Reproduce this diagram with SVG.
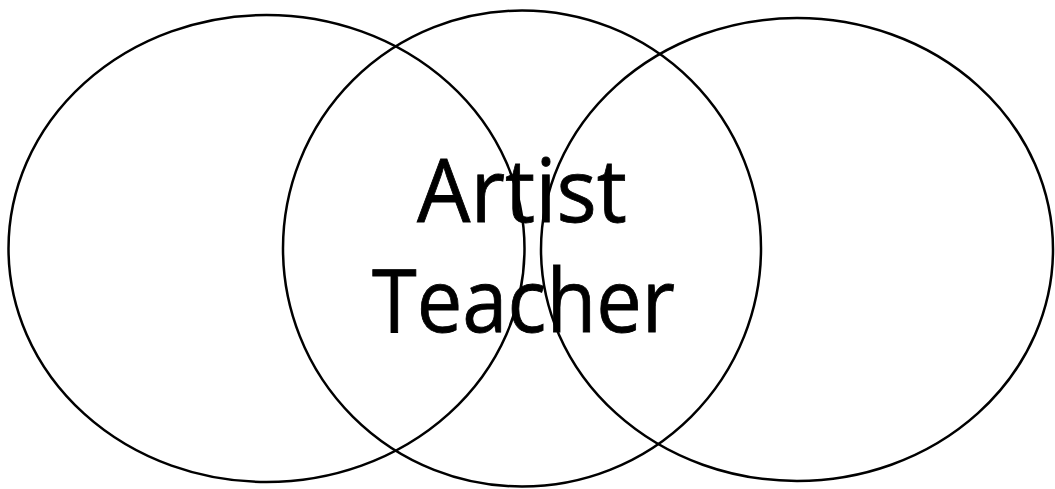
<svg xmlns="http://www.w3.org/2000/svg" width="1055" height="489" viewBox="0 0 1055 489">
<style>
.c{fill:none;stroke:#000;stroke-width:2.5}
.t{font-family:"Open Sans","Liberation Sans",sans-serif;font-size:87px;fill:#000;stroke:#000;stroke-width:0.8;text-anchor:middle}
</style>
<rect width="1055" height="489" fill="#fff"/>
<g id="circle-left"><ellipse class="c" cx="266.5" cy="248.5" rx="258" ry="233.5"/></g>
<g id="circle-middle"><ellipse class="c" cx="522" cy="248.5" rx="239" ry="238"/></g>
<g id="circle-right"><ellipse class="c" cx="797" cy="249.5" rx="256" ry="231.5"/></g>
<g id="label">
<text class="t" x="522" y="222" textLength="210" lengthAdjust="spacingAndGlyphs">Artist</text>
<text class="t" x="523.5" y="332" textLength="303" lengthAdjust="spacingAndGlyphs">Teacher</text>
</g>
</svg>
